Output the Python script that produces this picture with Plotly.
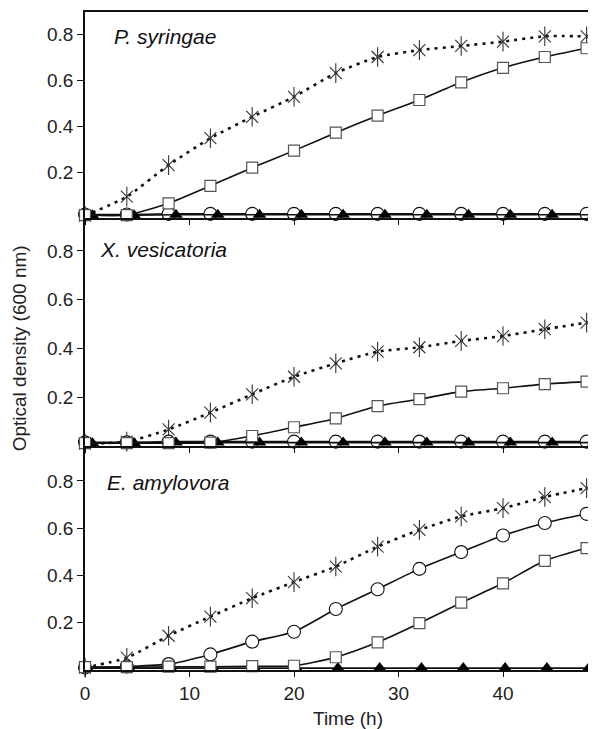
import plotly.graph_objects as go

# ---------------- data ----------------
time_h = [0, 4, 8, 12, 16, 20, 24, 28, 32, 36, 40, 44, 48]
tri_time_top = [0.7, 4.7, 8.7, 12.7, 16.7, 20.7, 24.7, 28.7, 32.7, 36.7, 40.7, 44.7, 48.7]
tri_time_bottom = [0.2, 4.2, 8.2, 12.2, 16.2, 20.2, 24.2, 28.2, 32.2, 36.2, 40.2, 44.2, 48.2]

species = ["P. syringae", "X. vesicatoria", "E. amylovora"]

# P. syringae
ps_star = [0.01, 0.093, 0.23, 0.347, 0.44, 0.527, 0.63, 0.70, 0.73, 0.748, 0.767, 0.79, 0.79]
ps_square = [0.013, 0.013, 0.064, 0.14, 0.219, 0.293, 0.371, 0.445, 0.513, 0.59, 0.653, 0.70, 0.738]
ps_circle = [0.015, 0.015, 0.018, 0.018, 0.018, 0.018, 0.018, 0.018, 0.018, 0.018, 0.018, 0.018, 0.018]
ps_triangle = [0.012, 0.012, 0.014, 0.014, 0.014, 0.014, 0.014, 0.014, 0.014, 0.014, 0.014, 0.014, 0.014]

# X. vesicatoria
xv_star = [0.01, 0.018, 0.068, 0.137, 0.212, 0.284, 0.339, 0.387, 0.405, 0.431, 0.451, 0.479, 0.506]
xv_square = [0.012, 0.012, 0.012, 0.014, 0.041, 0.077, 0.113, 0.164, 0.192, 0.223, 0.237, 0.254, 0.264]
xv_circle = [0.015, 0.015, 0.018, 0.018, 0.018, 0.018, 0.018, 0.018, 0.018, 0.018, 0.018, 0.018, 0.018]
xv_triangle = [0.012, 0.012, 0.014, 0.014, 0.014, 0.014, 0.014, 0.014, 0.014, 0.014, 0.014, 0.014, 0.014]

# E. amylovora
ea_star = [0.01, 0.052, 0.145, 0.226, 0.304, 0.372, 0.438, 0.522, 0.593, 0.65, 0.685, 0.732, 0.77]
ea_square = [0.012, 0.012, 0.014, 0.014, 0.016, 0.018, 0.054, 0.117, 0.198, 0.285, 0.367, 0.462, 0.516]
ea_circle = [0.01, 0.015, 0.025, 0.066, 0.12, 0.162, 0.258, 0.342, 0.428, 0.499, 0.569, 0.622, 0.661]
ea_triangle = [0.008, 0.008, 0.008, 0.008, 0.008, 0.008, 0.008, 0.008, 0.008, 0.008, 0.008, 0.008, 0.008]

x_ticks = [0, 10, 20, 30, 40]
y_ticks = [0.2, 0.4, 0.6, 0.8]
y_tick_text = ["0.2", "0.4", "0.6", "0.8"]

panels = [
    (ps_star, ps_square, ps_circle, ps_triangle, tri_time_top),
    (xv_star, xv_square, xv_circle, xv_triangle, tri_time_top),
    (ea_star, ea_square, ea_circle, ea_triangle, tri_time_bottom),
]

# ---------------- figure ----------------
FONT = "Liberation Sans, Arial, sans-serif"
fig = go.Figure()

for i, (star, sq, circ, tri, ttri) in enumerate(panels):
    ax = "" if i == 0 else str(i + 1)
    xa, ya = "x" + ax, "y" + ax
    common = dict(xaxis=xa, yaxis=ya, showlegend=False, cliponaxis=False)
    # stars: dotted line + 6-arm asterisk (X + vertical stroke)
    fig.add_trace(go.Scatter(x=time_h, y=star, mode="lines",
                             line=dict(color="#111", width=2.6, dash="3px,5px", shape="spline", smoothing=0.6),
                             **common))
    fig.add_trace(go.Scatter(x=time_h, y=star, mode="markers",
                             marker=dict(symbol="x-thin-open", size=12, color="#333",
                                         line=dict(color="#333", width=1.1)),
                             **common))
    fig.add_trace(go.Scatter(x=time_h, y=star, mode="markers",
                             marker=dict(symbol="line-ns-open", size=14, color="#333",
                                         line=dict(color="#333", width=1.1)),
                             **common))
    # circles
    fig.add_trace(go.Scatter(x=time_h, y=circ, mode="lines+markers",
                             line=dict(color="#111", width=1.6, shape="spline", smoothing=0.6),
                             marker=dict(symbol="circle", size=13, color="white", line=dict(color="#111", width=1.1)),
                             **common))
    # triangles
    fig.add_trace(go.Scatter(x=ttri, y=tri, mode="lines+markers",
                             line=dict(color="#111", width=1.6, shape="spline", smoothing=0.6),
                             marker=dict(symbol="triangle-up", size=12, color="#000", line=dict(color="#000", width=0)),
                             **common))
    # squares
    fig.add_trace(go.Scatter(x=time_h, y=sq, mode="lines+markers",
                             line=dict(color="#111", width=1.6, shape="spline", smoothing=0.6),
                             marker=dict(symbol="square", size=11, color="white", line=dict(color="#555", width=1.2)),
                             **common))

# layout geometry (paper domains); figure sits at an 8px page offset
domains = [[0.6869, 1.0], [0.3404, 0.6869], [0.0, 0.3404]]
y_tops = [0.8957, 0.935, 0.948]

layout = dict(
    width=588, height=721,
    margin=dict(l=77, r=0, t=4, b=59, autoexpand=False),
    paper_bgcolor="white", plot_bgcolor="white",
    font=dict(family=FONT, size=19, color="#222"),
)
for i in range(3):
    ax = "" if i == 0 else str(i + 1)
    layout["xaxis" + ax] = dict(
        domain=[0, 1], anchor="y" + ax, range=[0, 48.9],
        showline=True, linecolor="#111", linewidth=1.5,
        mirror=(i == 0),
        ticks="outside", ticklen=5, tickwidth=1.2, tickcolor="#111",
        tickvals=x_ticks, ticktext=[str(v) for v in x_ticks],
        showticklabels=(i == 2), showgrid=False, zeroline=False,
        tickfont=dict(size=19, color="#222", family=FONT),
    )
    layout["yaxis" + ax] = dict(
        domain=domains[i], anchor="x" + ax, range=[0, y_tops[i]],
        showline=True, linecolor="#111", linewidth=1.5,
        ticks="outside", ticklen=6, tickwidth=1.2, tickcolor="#111",
        tickvals=y_ticks, ticktext=y_tick_text,
        showgrid=False, zeroline=False,
        tickfont=dict(size=19, color="#222", family=FONT),
    )
fig.update_layout(**layout)

# species labels
label_pos = [(0.0528, 0.9635), (0.0254, 0.6383), (0.039, 0.2842)]
for name, (lx, ly) in zip(species, label_pos):
    fig.add_annotation(text="<i>" + name + "</i>", xref="paper", yref="paper",
                       x=lx, y=ly, xanchor="left", yanchor="middle", showarrow=False,
                       font=dict(size=21, color="#111", family=FONT))

# axis titles
fig.add_annotation(text="Time (h)", xref="paper", yref="paper", x=0.515, y=-0.073,
                   xanchor="center", yanchor="middle", showarrow=False,
                   font=dict(size=19, color="#222", family=FONT))
fig.add_annotation(text="Optical density (600 nm)", xref="paper", yref="paper", x=-0.129, y=0.489,
                   xanchor="center", yanchor="middle", textangle=-90, showarrow=False,
                   font=dict(size=19, color="#222", family=FONT))

fig.write_html("out.html")
